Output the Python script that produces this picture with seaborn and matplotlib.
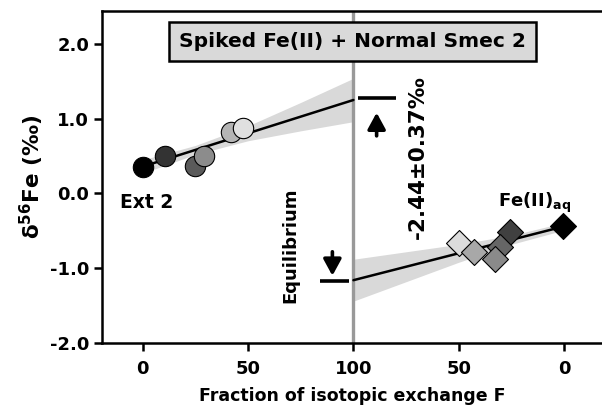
import matplotlib
matplotlib.use("Agg")
import numpy as np
import matplotlib.pyplot as plt
import seaborn as sns

# Left half: Ext 2 (Smec) data, F counted from 0 at the left
ext_F = [0, 10.5, 24.7, 29, 42, 47.4]
ext_d56 = [0.35, 0.50, 0.37, 0.50, 0.82, 0.88]
ext_shades = ["#000000", "#333333", "#5a5a5a", "#8c8c8c", "#b4b4b4", "#e0e0e0"]

# Right half: Fe(II)aq data, F counted from 0 at the right
aq_F = [49.7, 43, 25.7, 30.4, 33, 0.3]
aq_d56 = [-0.66, -0.78, -0.51, -0.71, -0.87, -0.44]
aq_shades = ["#dcdcdc", "#a8a8a8", "#404040", "#666666", "#8a8a8a", "#000000"]

# regression lines and their confidence bands
fit_F = [0, 100]
fit_ext = [0.36, 1.25]
fit_aq = [-0.44, -1.16]
band_F = [0, 25, 50, 75, 100]
ext_band_half = [0.09, 0.06, 0.10, 0.19, 0.29]
aq_band_half = [0.05, 0.06, 0.12, 0.20, 0.28]

# equilibrium end members
eq_ext = 1.27
eq_aq = -1.17

xtick_pos = [0, 50, 100, 150, 200]
xtick_labels = ["0", "50", "100", "50", "0"]
ytick_pos = [2.0, 1.0, 0.0, -1.0, -2.0]

sns.set_style("ticks")
plt.rcParams["font.family"] = ["DejaVu Sans"]
plt.rcParams["mathtext.fontset"] = "dejavusans"
plt.rcParams["text.color"] = "black"
plt.rcParams["axes.labelcolor"] = "black"
plt.rcParams["xtick.color"] = "black"
plt.rcParams["ytick.color"] = "black"

fig = plt.figure(figsize=(6.02, 4.15), dpi=100)
ax = fig.add_axes([0.169, 0.1735, 0.831, 0.80])

# shaded confidence bands
bx = np.array(band_F, dtype=float)
ax.fill_between(bx, np.interp(bx, fit_F, fit_ext) - ext_band_half,
                np.interp(bx, fit_F, fit_ext) + ext_band_half,
                color="#d9d9d9", lw=0, zorder=1)
ax.fill_between(200 - bx, np.interp(bx, fit_F, fit_aq) - aq_band_half,
                np.interp(bx, fit_F, fit_aq) + aq_band_half,
                color="#d9d9d9", lw=0, zorder=1)

# fit lines
sns.lineplot(x=fit_F, y=fit_ext, color="black", lw=1.8, ax=ax, zorder=2)
sns.lineplot(x=[200 - f for f in fit_F], y=fit_aq, color="black", lw=1.8, ax=ax, zorder=2)

# equilibrium divider
ax.axvline(100, color="#999999", lw=2.4, zorder=1.5)

# data points
for f, d, c in zip(ext_F, ext_d56, ext_shades):
    ax.scatter(f, d, s=215, marker="o", color=c, edgecolor="black", linewidth=0.8, zorder=3)
for f, d, c in zip(aq_F, aq_d56, aq_shades):
    ax.scatter(200 - f, d, s=175, marker="D", color=c, edgecolor="black", linewidth=0.8, zorder=3)

# equilibrium markers with arrows
ax.plot([102, 120], [eq_ext, eq_ext], color="black", lw=2.6, solid_capstyle="butt")
ax.plot([84, 98], [eq_aq, eq_aq], color="black", lw=2.6, solid_capstyle="butt")
arrow = dict(arrowstyle="-|>,head_length=0.55,head_width=0.3", color="black",
             lw=2.6, mutation_scale=18, shrinkA=0, shrinkB=0)
ax.annotate("", xy=(111, eq_ext - 0.19), xytext=(111, eq_ext - 0.50), arrowprops=arrow)
ax.annotate("", xy=(90, eq_aq + 0.07), xytext=(90, eq_aq + 0.39), arrowprops=arrow)

# labels
ax.text(99.5, 2.03, "Spiked Fe(II) + Normal Smec 2", ha="center", va="center",
        fontsize=14.5, fontweight="bold",
        bbox=dict(boxstyle="square,pad=0.5", fc="#d9d9d9", ec="black", lw=1.8), zorder=5)
ax.text(2, -0.12, "Ext 2", ha="center", va="center", fontsize=13.5, fontweight="bold")
ax.text(186, -0.13, r"Fe(II)$_{\mathbf{aq}}$", ha="center", va="center",
        fontsize=13, fontweight="bold")
ax.text(70, -0.69, "Equilibrium", rotation=90, ha="center", va="center",
        fontsize=13, fontweight="bold")
ax.text(130.5, 0.49, "-2.44±0.37‰", rotation=90, ha="center", va="center",
        fontsize=15.5, fontweight="bold")

ax.set_xlim(-19.5, 218)
ax.set_ylim(-2.0, 2.44)
ax.set_xticks(xtick_pos)
ax.set_xticklabels(xtick_labels)
ax.set_yticks(ytick_pos)
ax.set_yticklabels([f"{v:.1f}" for v in ytick_pos])
for lab in ax.get_xticklabels() + ax.get_yticklabels():
    lab.set_fontweight("bold")
    lab.set_fontsize(13)
ax.tick_params(axis="y", width=1.8, length=6, pad=3, color="black")
ax.tick_params(axis="x", width=1.8, length=6, pad=6, color="black")

ax.set_xlabel("Fraction of isotopic exchange F", fontsize=12.5, fontweight="bold", labelpad=7)
ax.set_ylabel(r"δ$^{\mathbf{56}}$Fe (‰)", fontsize=15.5, fontweight="bold", labelpad=3)

for side in ["left", "bottom", "top"]:
    ax.spines[side].set_linewidth(1.8)
    ax.spines[side].set_color("black")
ax.spines["right"].set_visible(False)

fig.savefig("out.png", dpi=100)
